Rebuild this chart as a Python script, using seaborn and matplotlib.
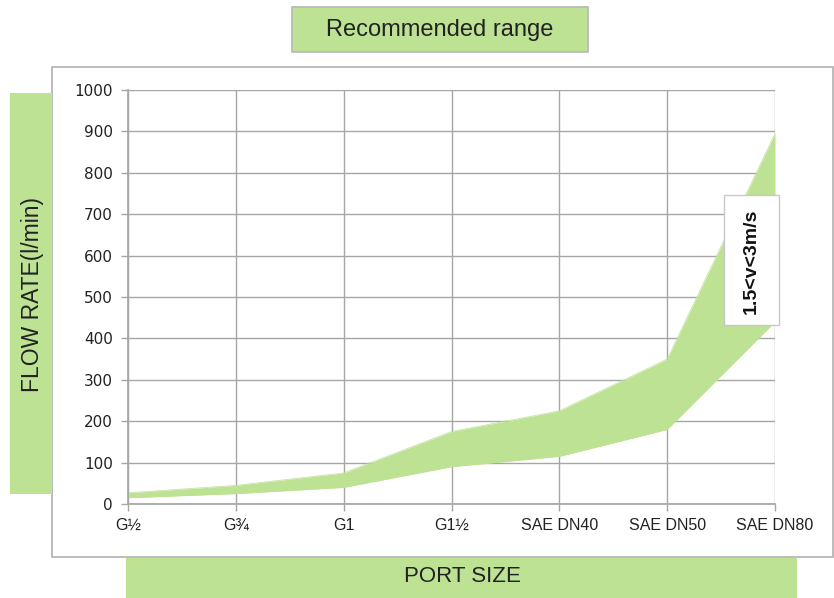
import numpy as np
import matplotlib
matplotlib.use("Agg")
import matplotlib.pyplot as plt
from matplotlib.patches import Rectangle
import pandas as pd
import seaborn as sns

# port sizes and recommended flow range (l/min)
ports = ["G½", "G¾", "G1", "G1½", "SAE DN40", "SAE DN50", "SAE DN80"]
flow_low = [15, 25, 40, 90, 115, 180, 440]
flow_high = [27, 45, 75, 175, 225, 350, 895]
y_ticks = [0, 100, 200, 300, 400, 500, 600, 700, 800, 900, 1000]

green = "#bde293"
grid_grey = "#a6a6a6"

sns.set_theme(style="white")
plt.rcParams['font.family'] = ['Liberation Sans', 'DejaVu Sans']

df = pd.DataFrame({"port": ports, "low": flow_low, "high": flow_high})
df["pos"] = np.arange(len(ports))

fig = plt.figure(figsize=(8.34, 5.98), dpi=100)
W, H = 834, 598

def box(x0, y0, x1, y1, fc, ec, lw=1.0, z=-1):
    # rectangle in pixel coords (y from top)
    r = Rectangle((x0 / W, 1 - y1 / H), (x1 - x0) / W, (y1 - y0) / H,
                  transform=fig.transFigure, facecolor=fc, edgecolor=ec,
                  linewidth=lw, zorder=z)
    fig.patches.append(r)

# outer chart frame and label boxes
box(52, 67, 833, 557, "white", "#b0b0b0", 1.2)
box(10, 93, 52, 494, green, "none")
box(126, 558, 797, 598, green, "none")
box(292, 7, 588, 52, green, "#b8b8b8", 1.2)

fig.text(440 / W, 1 - 30 / H, "Recommended range", ha="center", va="center",
         fontsize=17, color="#222222")
fig.text(33 / W, 1 - 295 / H, "FLOW RATE(l/min)", ha="center", va="center",
         rotation=90, fontsize=16.5, color="#222222")
fig.text(462 / W, 1 - 577 / H, "PORT SIZE", ha="center", va="center",
         fontsize=16, color="#222222")

ax = fig.add_axes([128 / W, 1 - 504 / H, (775 - 128) / W, (504 - 90) / H])
ax.set_facecolor("none")
ax.set_zorder(1)

sns.lineplot(data=df, x="pos", y="low", ax=ax, color=green, linewidth=0.5)
sns.lineplot(data=df, x="pos", y="high", ax=ax, color=green, linewidth=0.5)
ax.fill_between(df["pos"], df["low"], df["high"], color=green, linewidth=0, zorder=2)

ax.set_xlim(0, len(ports) - 1)
ax.set_ylim(0, 1000)
ax.set_xticks(df["pos"])
ax.set_xticklabels(ports, fontsize=11.5)
ax.set_yticks(y_ticks)
ax.set_yticklabels([str(v) for v in y_ticks], fontsize=11, family="DejaVu Sans")
ax.set_xlabel("")
ax.set_ylabel("")
ax.grid(True, color=grid_grey, linewidth=1.0)
ax.set_axisbelow(True)
for s in ["top", "right"]:
    ax.spines[s].set_visible(False)
for s in ["left", "bottom"]:
    ax.spines[s].set_color(grid_grey)
ax.tick_params(axis="both", length=5, width=1, color=grid_grey,
               labelcolor="#222222", direction="out")
ax.tick_params(axis="x", pad=5)
ax.tick_params(axis="y", pad=6)
ax.tick_params(left=True, bottom=True)

# velocity annotation
box(724, 195, 779, 325, "white", "#c8c8c8", 1.0, z=5)
fig.text(751.5 / W, 1 - 261 / H, "1.5<v<3m/s", ha="center", va="center", rotation=90,
         fontsize=14, fontweight="bold", color="#111111", zorder=6)

fig.savefig("out.png", dpi=100)
